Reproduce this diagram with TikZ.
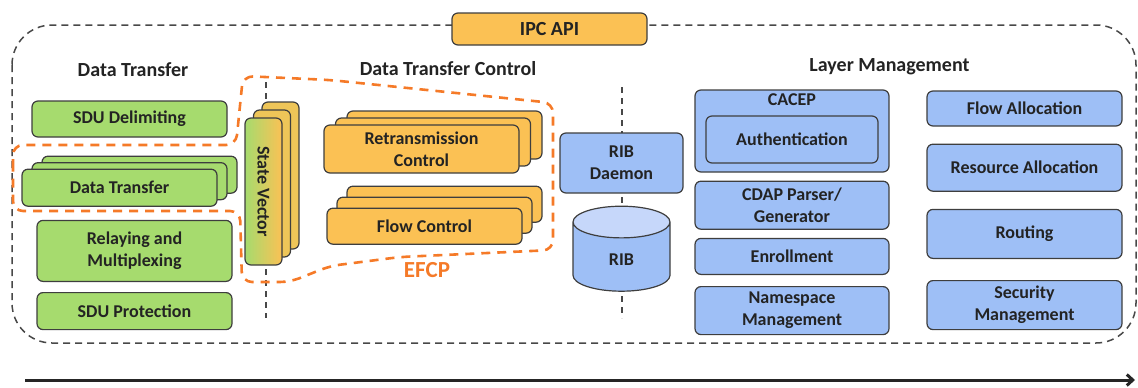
\documentclass[tikz,border=0pt]{standalone}
\usepackage{fontspec}
\setmainfont{Carlito}
\usetikzlibrary{positioning, arrows.meta, shapes.geometric, shadows}
\definecolor{ipcGreen}{RGB}{166, 219, 110}
\definecolor{ipcOrange}{RGB}{251, 193, 84}
\definecolor{ipcBlue}{RGB}{158, 191, 246}
\definecolor{ipcBlueLight}{RGB}{198, 215, 250}
\definecolor{ipcLine}{RGB}{62, 62, 62}
\definecolor{ipcText}{RGB}{35, 35, 35}
\definecolor{ipcEfcp}{RGB}{245, 122, 40}
\definecolor{ipcDash}{RGB}{72, 72, 72}

\begin{document}
\begin{tikzpicture}[
    x=1pt, y=-1pt,
    font=\bfseries\fontsize{18}{22}\selectfont,
    >={Straight Barb[length=6pt, width=11pt]},
    box/.style={
        draw=ipcLine,
        rectangle,
        rounded corners=6pt,
        line width=1.2pt,
        minimum width=195pt,
        minimum height=36pt,
        inner sep=2pt,
        align=center,
        text=ipcText
    },
    greenbox/.style={box, fill=ipcGreen},
    orangebox/.style={box, fill=ipcOrange},
    bluebox/.style={box, fill=ipcBlue},
    svbox/.style={
        box,
        minimum width=37pt,
        minimum height=147pt,
        left color=ipcGreen,
        right color=ipcOrange
    },
    stacked/.style n args={3}{
        general shadow={shadow xshift=2*#1, shadow yshift=2*#2, fill=#3, draw=ipcLine, line width=1.2pt},
        general shadow={shadow xshift=#1, shadow yshift=#2, fill=#3, draw=ipcLine, line width=1.2pt}
    },
    ribstore/.style={
        cylinder,
        shape border rotate=90,
        aspect=1.0,
        draw=ipcLine,
        line width=1.2pt,
        cylinder uses custom fill,
        cylinder body fill=ipcBlue,
        cylinder end fill=ipcBlueLight,
        minimum width=97pt,
        minimum height=85pt,
        text=ipcText
    },
    header/.style={
        font=\bfseries\fontsize{20}{24}\selectfont,
        text=ipcText
    },
    efcplabel/.style={
        font=\bfseries\fontsize{23}{26}\selectfont,
        text=ipcEfcp
    },
    frame/.style={
        draw=ipcDash,
        dash pattern=on 7pt off 5pt,
        line width=1.5pt,
        rounded corners=40pt
    },
    sepline/.style={
        draw=ipcDash,
        dash pattern=on 6pt off 5pt,
        line width=1.3pt
    },
    efcpline/.style={
        draw=ipcEfcp,
        dash pattern=on 9pt off 7pt,
        line width=2.6pt,
        rounded corners=10pt
    },
    axisarrow/.style={
        draw=black!85,
        ->,
        line width=3pt
    }
]
\useasboundingbox (0,0) rectangle (1138,388);

% ================= FRAME & SEPARATORS =================
\draw[frame] (12,25) rectangle (1136,343);

\coordinate (sepAtop) at (266,82);
\coordinate (sepAbot) at (266,318);
\coordinate (sepBtop) at (622,87);
\coordinate (sepBbot) at (622,318);
\draw[sepline] (sepAtop) -- (sepAbot);
\draw[sepline] (sepBtop) -- (sepBbot);

\node[orangebox, minimum height=32pt, font=\bfseries\fontsize{20}{24}\selectfont] (ipcapi) at (549.5,29) {IPC API};

% ================= DATA TRANSFER =================
\node[header] (hdt) at (133,70) {Data Transfer};
\node[greenbox] (sdudelim) at (129.5,119) {SDU Delimiting};
\node[greenbox, minimum height=37pt, stacked={10pt}{6.5pt}{ipcGreen}, below=31pt of sdudelim, xshift=-10pt] (dtbox) {Data Transfer};
\node[greenbox, minimum height=61pt, below=13pt of dtbox, xshift=15pt] (relay) {Relaying and\\Multiplexing};
\node[greenbox, minimum height=37pt, below=10pt of relay] (sduprot) {SDU Protection};

\node[svbox, stacked={8.5pt}{8pt}{ipcOrange!85!ipcGreen}] (statevec) at (263.5,191.5) {\rotatebox{-90}{State Vector}};

% ================= DATA TRANSFER CONTROL =================
\node[header] (hdtc) at (448,69) {Data Transfer Control};
\node[orangebox, minimum height=48pt, stacked={11.5pt}{7pt}{ipcOrange}] (retrans) at (421.5,149) {Retransmission\\Control};
\node[orangebox, stacked={10pt}{11pt}{ipcOrange}, below=34pt of retrans, xshift=3pt] (flowctl) {Flow Control};
\node[efcplabel] (efcp) at (427,270) {EFCP};

% ================= RIB =================
\node[bluebox, minimum width=123pt, minimum height=60pt] (ribd) at (621.5,163) {RIB\\Daemon};
\node[ribstore, below=12pt of ribd] (rib) {RIB};

% ================= LAYER MANAGEMENT =================
\node[header] (hlm) at (889.5,67) {Layer Management};
\node[bluebox, minimum width=194pt, minimum height=82pt, label={[anchor=north, yshift=-1pt, text=ipcText]north:CACEP}] (cacep) at (792,131) {};
\node[bluebox, minimum width=172pt, minimum height=47pt] (auth) at ([yshift=-8.5pt]cacep.center) {Authentication};
\node[bluebox, minimum width=194pt, minimum height=48pt, below=8pt of cacep] (cdap) {CDAP Parser/\\Generator};
\node[bluebox, minimum width=194pt, below=8pt of cdap] (enroll) {Enrollment};
\node[bluebox, minimum width=194pt, minimum height=48pt, below=11pt of enroll] (namesp) {Namespace\\Management};

\node[bluebox, minimum height=35pt] (flowalloc) at (1024.5,108.5) {Flow Allocation};
\node[bluebox, minimum height=47pt, below=17pt of flowalloc] (resalloc) {Resource Allocation};
\node[bluebox, minimum height=49pt, below=17pt of resalloc] (routing) {Routing};
\node[bluebox, minimum height=49pt, below=21pt of routing] (secmgmt) {Security\\Management};

% ================= EFCP CONTOUR =================
\draw[efcpline] (13,178) -- (13,145) -- (236,145) -- (243,76) -- (330,80) -- (553,103)
    -- (553,250) -- (400,257) -- (330,266) -- (290,282) -- (242,282) -- (240,211)
    -- (13,211) -- cycle;

% ================= AXIS =================
\coordinate (axisL) at (25,380);
\coordinate (axisR) at (1135,380);
\draw[axisarrow] (axisL) -- (axisR);

\end{tikzpicture}
\end{document}
